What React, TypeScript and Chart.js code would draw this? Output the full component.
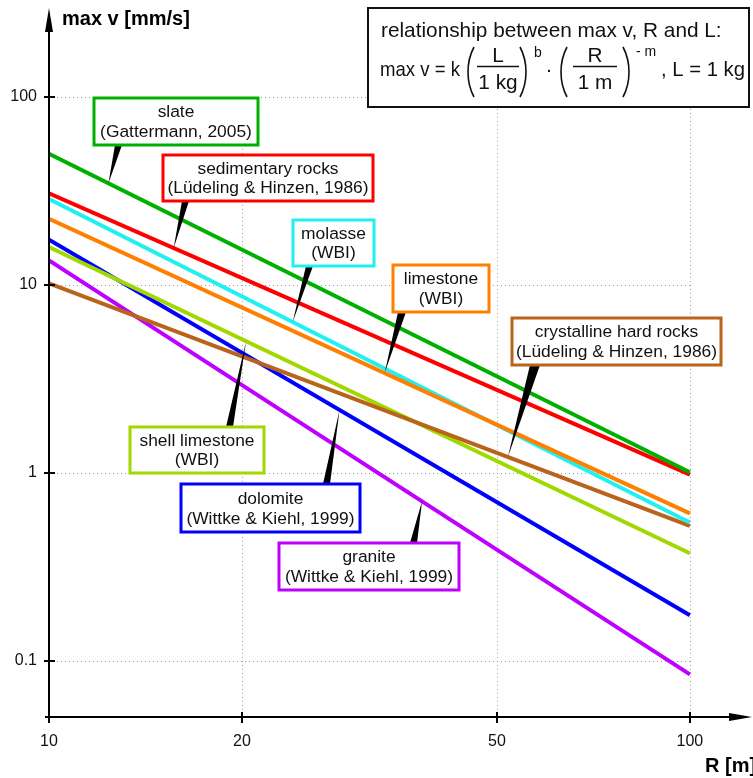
import { useEffect, useRef } from "react";
import { Chart, registerables } from "chart.js";

Chart.register(...registerables);

const FONT = "'Liberation Sans', Arial, Helvetica, sans-serif";

// ---- data (R in m, max v in mm/s) ----
const distances = [10, 100];
const slateValues = [49.8, 1.01];
const sedimentaryValues = [30.7, 0.98];
const molasseValues = [28.6, 0.545];
const limestoneValues = [22.5, 0.61];
const crystallineValues = [10.2, 0.524];
const shellLimestoneValues = [15.9, 0.374];
const dolomiteValues = [17.4, 0.175];
const graniteValues = [13.5, 0.085];

const xTicks = [10, 20, 50, 100];
const xTickLabels = ["10", "20", "50", "100"];
const yTicks = [0.1, 1, 10, 100];
const yTickLabels = ["0.1", "1", "10", "100"];

const X_MIN = 10;
const X_MAX = 125;
const Y_MIN = 0.0504;
const Y_MAX = 297;

const series = [
  { key: "slate", values: slateValues, color: "#00b000" },
  { key: "sedimentary", values: sedimentaryValues, color: "#ff0000" },
  { key: "limestone", values: limestoneValues, color: "#ff8000" },
  { key: "molasse", values: molasseValues, color: "#22f0f0" },
  { key: "crystalline", values: crystallineValues, color: "#b8641a" },
  { key: "shellLimestone", values: shellLimestoneValues, color: "#a0d800" },
  { key: "dolomite", values: dolomiteValues, color: "#0000ff" },
  { key: "granite", values: graniteValues, color: "#bf00ff" },
];

// callout boxes: pixel layout of the label box, wedge base on the box edge,
// and the distance R at which the pointer touches its series
const callouts = [
  { key: "slate", lines: ["slate", "(Gattermann, 2005)"], box: [94, 98, 164, 47], base: [115, 122], edge: "bottom", tipR: 12.38 },
  { key: "sedimentary", lines: ["sedimentary rocks", "(Lüdeling & Hinzen, 1986)"], box: [163, 155, 210, 46], base: [182, 189], edge: "bottom", tipR: 15.65 },
  { key: "molasse", lines: ["molasse", "(WBI)"], box: [293, 220, 81, 46], base: [306, 313], edge: "bottom", tipR: 24.0 },
  { key: "limestone", lines: ["limestone", "(WBI)"], box: [393, 265, 96, 47], base: [398, 406], edge: "bottom", tipR: 33.4 },
  { key: "crystalline", lines: ["crystalline hard rocks", "(Lüdeling & Hinzen, 1986)"], box: [512, 318, 209, 47], base: [530, 540], edge: "bottom", tipR: 52.0 },
  { key: "shellLimestone", lines: ["shell limestone", "(WBI)"], box: [130, 427, 134, 46], base: [226, 233], edge: "top", tipR: 20.3 },
  { key: "dolomite", lines: ["dolomite", "(Wittke & Kiehl, 1999)"], box: [181, 484, 179, 48], base: [323, 330], edge: "top", tipR: 28.4 },
  { key: "granite", lines: ["granite", "(Wittke & Kiehl, 1999)"], box: [279, 543, 180, 47], base: [410, 417], edge: "top", tipR: 38.2 },
];

function seriesValueAt(values: number[], r: number) {
  const l0 = Math.log10(distances[0]);
  const l1 = Math.log10(distances[distances.length - 1]);
  const t = (Math.log10(r) - l0) / (l1 - l0);
  const v0 = Math.log10(values[0]);
  const v1 = Math.log10(values[values.length - 1]);
  return Math.pow(10, v0 + (v1 - v0) * t);
}

function drawParen(ctx: CanvasRenderingContext2D, x: number, top: number, bot: number, left: boolean) {
  const w = 7;
  ctx.beginPath();
  if (left) {
    ctx.moveTo(x + w, top);
    ctx.bezierCurveTo(x - 1, top + (bot - top) * 0.3, x - 1, top + (bot - top) * 0.7, x + w, bot);
  } else {
    ctx.moveTo(x, top);
    ctx.bezierCurveTo(x + w + 1, top + (bot - top) * 0.3, x + w + 1, top + (bot - top) * 0.7, x, bot);
  }
  ctx.stroke();
}

const overlayPlugin = {
  id: "overlay",
  beforeDatasetsDraw(chart: any) {
    const { ctx } = chart;
    const xs = chart.scales.x;
    const ys = chart.scales.y;
    const gx0 = xs.getPixelForValue(xTicks[0]);
    const gx1 = xs.getPixelForValue(xTicks[xTicks.length - 1]);
    const gyTop = ys.getPixelForValue(yTicks[yTicks.length - 1]);
    const gyBot = ys.bottom;
    ctx.save();
    ctx.strokeStyle = "#9a9a9a";
    ctx.lineWidth = 1;
    ctx.setLineDash([1, 3]);
    for (const v of yTicks) {
      const py = Math.round(ys.getPixelForValue(v)) + 0.5;
      ctx.beginPath();
      ctx.moveTo(gx0, py);
      ctx.lineTo(gx1, py);
      ctx.stroke();
    }
    for (const v of xTicks) {
      const px = Math.round(xs.getPixelForValue(v)) + 0.5;
      ctx.beginPath();
      ctx.moveTo(px, gyTop);
      ctx.lineTo(px, gyBot);
      ctx.stroke();
    }
    ctx.restore();
  },
  afterDatasetsDraw(chart: any) {
    const { ctx } = chart;
    const xs = chart.scales.x;
    const ys = chart.scales.y;
    ctx.save();
    // callouts
    for (const c of callouts) {
      const s = series.find((q) => q.key === c.key)!;
      const [bx, by, bw, bh] = c.box;
      const tx = xs.getPixelForValue(c.tipR);
      const ty = ys.getPixelForValue(seriesValueAt(s.values, c.tipR));
      const ey = c.edge === "bottom" ? by + bh : by;
      ctx.fillStyle = "#000";
      ctx.beginPath();
      ctx.moveTo(c.base[0], ey);
      ctx.lineTo(c.base[1], ey);
      ctx.lineTo(tx, ty);
      ctx.closePath();
      ctx.fill();
      ctx.fillStyle = "#fff";
      ctx.fillRect(bx, by, bw, bh);
      ctx.strokeStyle = s.color;
      ctx.lineWidth = 3;
      ctx.strokeRect(bx, by, bw, bh);
      ctx.fillStyle = "#111";
      ctx.font = `17.4px ${FONT}`;
      ctx.textAlign = "center";
      ctx.textBaseline = "middle";
      ctx.fillText(c.lines[0], bx + bw / 2, by + bh * 0.31);
      ctx.fillText(c.lines[1], bx + bw / 2, by + bh * 0.73);
    }
    // formula box
    ctx.fillStyle = "#fff";
    ctx.fillRect(368, 8, 381, 99);
    ctx.strokeStyle = "#111";
    ctx.lineWidth = 2;
    ctx.strokeRect(368, 8, 381, 99);
    ctx.fillStyle = "#111";
    ctx.textBaseline = "alphabetic";
    ctx.textAlign = "left";
    ctx.font = `20.8px ${FONT}`;
    ctx.fillText("relationship between max v, R and L:", 381, 37);
    ctx.fillText("max v = k", 380, 76, 80);
    ctx.textAlign = "center";
    ctx.fillText("L", 498, 62);
    ctx.fillText("1 kg", 498, 89);
    ctx.fillText("R", 595, 62);
    ctx.fillText("1 m", 595, 89);
    ctx.fillText("·", 549, 76);
    ctx.textAlign = "left";
    ctx.fillText(", L = 1 kg", 661, 76, 84);
    ctx.font = `14px ${FONT}`;
    ctx.fillText("b", 534, 57);
    ctx.fillText("- m", 636, 56);
    ctx.lineWidth = 1.5;
    ctx.beginPath();
    ctx.moveTo(477, 66.5);
    ctx.lineTo(519, 66.5);
    ctx.moveTo(573, 66.5);
    ctx.lineTo(617, 66.5);
    ctx.stroke();
    ctx.lineWidth = 1.6;
    drawParen(ctx, 467, 47, 97, true);
    drawParen(ctx, 520, 47, 97, false);
    drawParen(ctx, 560, 47, 97, true);
    drawParen(ctx, 623, 47, 97, false);
    ctx.restore();
  },
  afterDraw(chart: any) {
    const { ctx } = chart;
    const xs = chart.scales.x;
    const ys = chart.scales.y;
    const ax = xs.getPixelForValue(X_MIN);
    const ay = ys.bottom;
    const xTip = xs.right;
    const yTip = ys.top;
    ctx.save();
    ctx.strokeStyle = "#000";
    ctx.fillStyle = "#000";
    ctx.lineWidth = 2;
    ctx.beginPath();
    ctx.moveTo(ax - 4, ay);
    ctx.lineTo(xTip - 20, ay);
    ctx.moveTo(ax, ay + 4);
    ctx.lineTo(ax, yTip + 20);
    ctx.stroke();
    // arrows
    ctx.beginPath();
    ctx.moveTo(xTip, ay);
    ctx.lineTo(xTip - 23, ay - 4);
    ctx.lineTo(xTip - 23, ay + 4);
    ctx.closePath();
    ctx.fill();
    ctx.beginPath();
    ctx.moveTo(ax, yTip);
    ctx.lineTo(ax - 4, yTip + 24);
    ctx.lineTo(ax + 4, yTip + 24);
    ctx.closePath();
    ctx.fill();
    // tick marks
    for (const v of xTicks) {
      const px = Math.round(xs.getPixelForValue(v));
      ctx.beginPath();
      ctx.moveTo(px, ay - 5);
      ctx.lineTo(px, ay + 6);
      ctx.stroke();
    }
    for (const v of yTicks) {
      const py = Math.round(ys.getPixelForValue(v));
      ctx.beginPath();
      ctx.moveTo(ax - 5, py);
      ctx.lineTo(ax + 6, py);
      ctx.stroke();
    }
    // axis titles
    ctx.font = `bold 20px ${FONT}`;
    ctx.textAlign = "left";
    ctx.textBaseline = "alphabetic";
    ctx.fillText("max v [mm/s]", 62, 25);
    ctx.fillText("R [m]", 705, 772);
    ctx.restore();
  },
};

export default function App() {
  const ref = useRef<HTMLCanvasElement | null>(null);
  useEffect(() => {
    if (!ref.current) return;
    Chart.defaults.font.family = FONT;
    const chart = new Chart(ref.current, {
      type: "line",
      data: {
        datasets: series.map((s) => ({
          label: s.key,
          data: distances.map((r, i) => ({ x: r, y: s.values[i] })),
          borderColor: s.color,
          backgroundColor: s.color,
          borderWidth: 4,
          pointRadius: 0,
          tension: 0,
          fill: false,
        })),
      },
      options: {
        animation: false,
        responsive: false,
        maintainAspectRatio: false,
        layout: { padding: { left: 0, right: 1, top: 8, bottom: 0 } },
        plugins: { legend: { display: false }, tooltip: { enabled: false } },
        scales: {
          x: {
            type: "logarithmic",
            min: X_MIN,
            max: X_MAX,
            afterBuildTicks: (s: any) => {
              s.ticks = xTicks.map((v) => ({ value: v }));
            },
            afterFit: (s: any) => {
              s.height = 61;
              s.paddingLeft = 0;
              s.paddingRight = 0;
            },
            grid: { display: false, drawTicks: false },
            border: { display: false },
            ticks: {
              padding: 15,
              color: "#111",
              font: { size: 16, family: FONT },
              maxRotation: 0,
              autoSkip: false,
              callback: (_v: any, i: number) => xTickLabels[i],
            },
          },
          y: {
            type: "logarithmic",
            min: Y_MIN,
            max: Y_MAX,
            afterBuildTicks: (s: any) => {
              s.ticks = yTicks.map((v) => ({ value: v }));
            },
            afterFit: (s: any) => {
              s.width = 49;
              s.paddingTop = 0;
              s.paddingBottom = 0;
            },
            grid: { display: false, drawTicks: false },
            border: { display: false },
            ticks: {
              padding: 12,
              color: "#111",
              font: { size: 16, family: FONT },
              autoSkip: false,
              callback: (_v: any, i: number) => yTickLabels[i],
            },
          },
        },
      },
      plugins: [overlayPlugin],
    });
    return () => chart.destroy();
  }, []);
  return (
    <div style={{ position: "absolute", left: 0, top: 0, width: 753, height: 778, background: "#fff" }}>
      <canvas ref={ref} width={753} height={778} style={{ width: 753, height: 778, display: "block" }} />
    </div>
  );
}
